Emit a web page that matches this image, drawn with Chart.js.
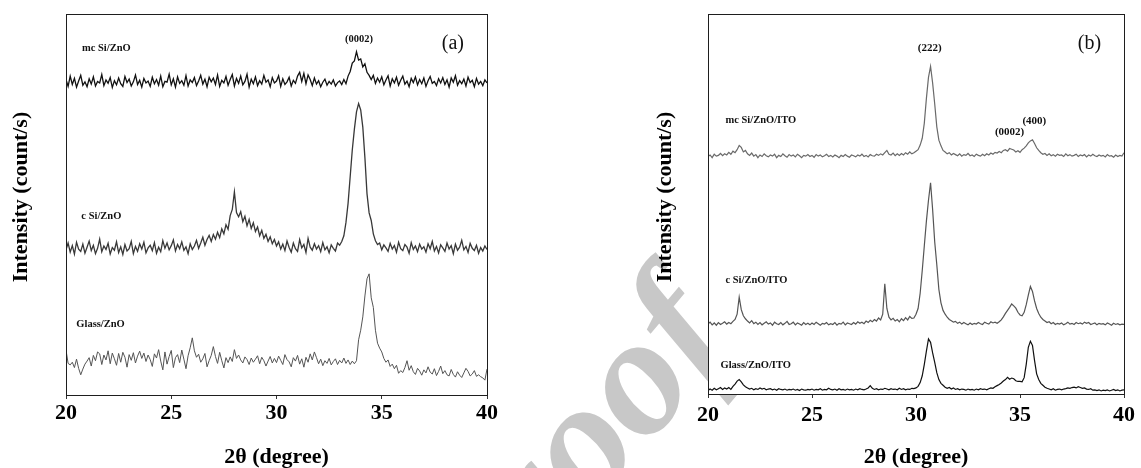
<!DOCTYPE html>
<html><head><meta charset="utf-8">
<script src="https://cdn.jsdelivr.net/npm/chart.js@4.4.1/dist/chart.umd.min.js"></script>
<style>
html,body{margin:0;padding:0;background:#fff;width:1141px;height:468px;overflow:hidden;}
#wm{position:absolute;left:0;top:0;z-index:0}
#ca{position:absolute;left:0;top:0;z-index:1}
#cb{position:absolute;left:640px;top:0;z-index:1}
</style></head><body>
<canvas id="wm" width="1141" height="468"></canvas>
<canvas id="ca" width="570" height="468"></canvas>
<canvas id="cb" width="501" height="468"></canvas>
<script>
// ---- sampling grid (2θ, degrees) ----
const THETA_START = 20, THETA_STEP = 0.1;
const xTicks = [20, 25, 30, 35, 40];

// ---- panel (a): intensities (arb. units) ----
const aMcSiZnO = [
1.5,-0.3,2.4,0.2,1.8,-0.5,1.1,2.6,0.0,0.9,
-0.4,1.7,0.3,2.2,-0.2,1.0,0.6,2.8,-0.1,1.4,
0.5,2.0,-0.6,1.2,0.1,1.9,0.4,-0.3,2.3,0.7,
1.6,-0.2,0.9,2.7,0.2,1.3,-0.5,1.8,0.6,1.1,
-0.3,2.1,0.4,1.5,0.0,2.4,-0.4,1.0,0.8,2.9,
0.1,1.7,-0.5,2.2,0.5,1.2,0.0,2.5,-0.2,1.4,
0.7,2.0,-0.1,1.1,2.6,0.3,1.6,-0.4,2.1,0.9,
1.9,0.2,2.7,-0.3,1.3,0.6,2.3,0.0,1.5,2.8,
-0.2,1.8,0.5,2.4,0.1,1.0,2.9,-0.5,1.6,0.4,
2.2,-0.1,1.2,0.3,2.6,0.8,1.4,-0.4,2.0,0.6,
1.1,2.5,-0.3,1.7,0.2,0.9,2.1,-0.2,1.3,0.5,
2.4,3.4,1.0,3.1,0.4,2.7,1.5,-0.1,1.9,0.3,
1.2,-0.4,0.8,1.6,0.0,1.0,0.3,1.4,-0.2,0.7,
1.1,0.2,1.5,0.4,2.4,3.6,5.8,6.4,8.8,6.6,
6.9,4.8,5.6,3.4,2.6,1.5,2.6,0.5,1.9,0.8,
2.2,0.1,1.4,2.5,-0.2,1.7,0.6,2.1,0.0,1.3,
2.4,0.3,1.1,-0.4,1.8,0.7,2.2,0.1,1.5,0.4,
1.9,-0.3,1.2,2.3,0.5,1.0,-0.1,1.7,0.6,2.0,
0.2,1.4,-0.5,1.9,0.8,2.5,0.0,1.2,0.4,1.6,
-0.2,2.1,0.7,1.3,-0.4,1.8,0.3,1.0,-0.1,1.4,
0.6];
const aCSiZnO = [
0.8,2.6,0.2,1.9,-0.3,2.8,1.0,0.4,2.3,-0.1,
1.5,3.1,0.6,2.0,-0.2,1.2,3.6,0.3,1.8,0.9,
2.5,-0.3,1.4,0.7,2.9,0.1,1.6,-0.4,2.2,0.5,
1.1,3.0,-0.2,1.7,0.4,2.4,1.0,2.8,0.0,1.3,
2.0,0.6,2.7,-0.1,1.5,0.3,3.2,1.2,2.6,0.8,
1.9,3.4,0.5,2.2,1.1,2.9,0.7,1.6,-0.2,2.4,
0.9,1.8,3.3,1.2,2.6,4.1,2.0,3.5,4.6,3.0,
4.8,3.6,5.4,4.0,6.3,5.0,7.4,6.2,9.8,11.4,
16.0,10.6,9.5,10.8,8.2,9.6,7.1,8.8,6.4,7.9,
5.6,6.8,4.5,5.9,3.8,4.9,3.0,4.2,2.4,3.5,
1.8,2.9,1.0,2.3,0.6,3.1,1.4,0.2,2.6,1.1,
0.4,3.5,1.3,2.2,0.1,3.8,1.5,0.7,2.4,1.0,
1.9,0.3,2.7,0.8,1.6,0.0,2.1,1.2,0.5,2.6,
2.0,3.0,4.5,8.0,13.0,20.0,27.0,32.5,37.0,39.2,
37.5,33.0,25.0,15.5,10.5,8.5,5.0,3.2,2.2,2.6,
0.8,2.1,1.3,0.4,2.5,1.0,1.9,0.2,2.8,1.1,
0.6,2.2,1.5,-0.1,2.7,0.9,1.8,0.3,2.3,1.0,
1.6,0.2,2.4,1.1,3.0,0.5,1.7,0.0,2.1,1.3,
0.4,2.6,1.0,1.9,-0.2,2.3,0.7,1.5,3.3,0.8,
1.7,0.1,2.5,1.2,0.6,2.0,-0.1,1.4,0.5,1.8,
0.9];
const aGlassZnO = [
11.8,8.3,7.9,8.6,7.2,9.4,7.0,5.3,6.8,8.1,
8.9,9.8,7.6,10.4,9.0,11.3,10.8,8.0,10.5,9.2,
11.6,8.2,11.0,9.5,7.8,10.9,8.6,11.2,9.9,7.3,
10.6,9.1,11.1,8.4,10.2,11.5,9.6,11.0,8.8,10.5,
9.3,7.5,10.8,9.7,11.9,8.9,6.6,11.3,8.1,10.1,
11.7,7.2,9.8,10.6,8.5,11.8,9.4,6.9,10.3,12.4,
15.0,11.6,9.9,10.7,8.6,9.5,10.9,7.4,9.0,10.4,
12.7,10.1,8.3,11.2,9.0,7.1,9.8,8.5,10.0,8.8,
11.9,9.6,10.5,9.2,8.4,10.0,9.3,8.0,9.7,8.6,
9.4,10.3,8.2,9.9,9.0,7.6,8.9,10.1,8.4,9.6,
8.5,10.2,9.1,8.0,10.6,9.3,8.7,7.4,9.8,8.9,
10.4,8.1,9.5,7.3,9.9,8.6,10.8,9.2,11.3,9.8,
8.2,9.4,7.7,9.0,8.3,9.6,7.9,8.8,9.5,8.0,
9.1,8.4,9.7,8.3,9.2,8.0,8.9,8.2,9.0,14.5,
17.0,20.5,26.0,30.5,31.8,25.5,23.0,17.0,13.6,12.3,
11.3,9.6,8.6,9.2,7.5,8.1,6.9,7.8,5.7,6.4,
5.9,7.2,9.0,6.5,7.7,6.1,5.4,7.0,6.3,5.2,
6.6,5.8,7.4,6.0,5.5,6.9,5.1,6.2,7.6,5.6,
6.4,5.3,5.0,6.7,5.4,4.7,6.1,5.2,4.6,5.8,
7.0,6.2,5.0,5.5,6.4,4.9,5.3,4.8,4.5,3.9,
6.8];
const aOffsets = [81.3, 37.3, 0];   // mc Si, c Si, Glass (vertical stacking)

// ---- panel (b) ----
const bMcSiZnOITO = [
0.2,0.6,-0.1,0.8,0.3,0.5,1.0,0.4,0.9,0.6,
1.3,0.8,1.6,1.2,2.0,3.1,2.6,1.4,1.8,0.9,
0.5,1.1,0.3,0.7,-0.1,0.6,0.2,0.9,0.4,0.1,
0.6,0.3,0.8,-0.1,0.5,0.2,0.9,0.4,0.0,0.7,
0.3,0.6,0.1,0.8,0.4,-0.1,0.5,0.3,0.7,0.2,
0.5,0.0,0.7,0.3,0.6,0.1,0.4,0.8,0.2,0.5,
0.1,0.6,0.3,-0.1,0.5,0.2,0.7,0.3,0.0,0.6,
0.4,0.1,0.6,0.3,0.8,0.2,0.5,0.1,0.7,0.4,
0.3,0.8,0.5,0.9,0.6,1.2,1.8,0.8,0.6,1.1,
0.4,0.9,0.5,1.0,0.6,1.2,0.8,1.4,0.9,1.2,
1.6,2.0,3.2,5.0,9.0,15.5,21.0,23.9,19.5,14.0,
8.0,4.5,3.0,1.8,1.4,0.9,1.2,0.6,1.0,0.7,
0.4,0.9,0.3,0.7,0.5,1.0,0.4,0.6,0.2,0.8,
0.5,0.3,0.8,0.4,0.9,0.6,1.1,0.8,1.3,1.1,
1.5,1.2,1.8,2.0,1.6,2.3,2.1,1.9,1.4,1.7,
1.3,2.0,2.4,3.0,3.8,4.3,4.6,3.6,2.5,1.8,
1.2,0.8,1.0,0.5,0.9,0.4,0.7,0.3,0.8,0.5,
0.6,0.2,0.9,0.4,0.7,0.3,0.5,0.8,0.2,0.6,
0.4,0.7,0.1,0.6,0.3,0.8,0.4,0.2,0.6,0.3,
0.5,0.1,0.7,0.3,0.4,0.0,0.6,0.2,0.5,0.3,
1.2];
const bCSiZnOITO = [
0.4,0.9,0.2,0.7,0.1,0.8,0.3,0.6,1.0,0.4,
0.8,0.5,1.1,1.6,3.0,7.5,4.2,2.6,1.8,1.2,
0.7,1.3,0.5,0.9,0.3,0.8,0.2,0.6,1.0,0.4,
0.7,0.1,0.9,0.5,0.3,0.8,0.2,0.6,1.1,0.3,
0.5,0.9,0.2,0.7,0.4,0.1,0.8,0.3,0.6,0.2,
0.7,0.3,0.9,0.5,0.1,0.6,0.4,0.8,0.2,0.5,
0.3,0.8,0.1,0.6,0.4,0.9,0.2,0.7,0.5,0.3,
0.8,0.4,1.0,0.6,0.9,0.5,1.2,0.8,1.4,1.0,
1.6,1.2,2.0,1.5,3.0,11.0,4.5,2.2,1.5,1.9,
1.2,1.6,1.0,1.8,1.3,2.1,1.5,2.4,1.9,2.0,
3.0,4.5,8.5,14.5,21.0,27.5,33.0,37.6,30.5,22.0,
16.0,9.5,6.0,4.0,3.0,2.2,1.6,1.3,0.9,1.1,
0.6,0.9,0.4,0.8,0.5,0.2,0.7,0.3,0.6,0.4,
0.8,0.5,0.3,0.9,0.6,0.4,1.0,0.7,0.9,0.6,
1.0,1.5,2.3,3.2,4.0,4.8,5.7,5.2,4.6,3.5,
2.8,2.6,3.5,5.5,8.0,10.3,9.0,6.5,4.5,3.2,
2.2,1.6,1.2,0.8,1.0,0.5,0.8,0.3,0.6,0.4,
0.7,0.2,0.5,0.9,0.4,0.6,0.3,0.8,0.5,0.7,
0.4,0.9,0.6,0.8,0.3,0.5,0.7,0.2,0.6,0.4,
0.5,0.2,0.7,0.4,0.1,0.6,0.3,0.5,0.2,0.4,
0.3];
const bGlassZnOITO = [
0.1,0.5,0.2,0.7,0.3,0.6,0.9,0.4,0.8,0.5,
0.9,0.4,1.2,1.8,2.6,3.0,2.4,1.6,1.1,0.8,
0.5,0.7,0.3,0.6,0.4,0.8,0.5,0.7,0.3,0.5,
0.6,0.3,0.5,0.2,0.6,0.4,0.3,0.5,0.2,0.4,
0.3,0.5,0.2,0.4,0.1,0.5,0.3,0.2,0.4,0.3,
0.5,0.2,0.4,0.3,0.6,0.2,0.4,0.3,0.7,0.4,
0.3,0.5,0.2,0.6,0.3,0.4,0.2,0.5,0.3,0.4,
0.2,0.5,0.3,0.6,0.4,0.3,0.5,0.8,1.4,0.7,
0.4,0.6,0.3,0.5,0.4,0.7,0.5,0.3,0.6,0.4,
0.5,0.3,0.7,0.4,0.6,0.3,0.5,0.4,0.7,0.6,
0.8,1.2,2.2,4.0,7.0,10.5,13.7,12.8,10.0,7.5,
4.8,3.0,2.0,1.5,1.0,0.7,0.9,0.5,0.8,0.4,
0.6,0.3,0.5,0.4,0.2,0.5,0.3,0.4,0.2,0.5,
0.3,0.6,0.4,0.5,0.3,0.6,0.8,0.7,1.1,1.4,
1.7,2.1,2.6,3.0,3.6,3.1,3.4,3.2,2.7,2.5,
2.5,2.4,3.5,7.0,11.5,13.1,12.0,8.0,4.5,3.0,
2.0,1.5,1.0,0.7,0.5,0.3,0.6,0.2,0.4,0.5,
0.3,0.5,0.6,0.8,0.7,0.9,1.0,0.8,1.1,0.9,
0.7,0.8,0.5,0.4,0.6,0.2,0.3,0.1,0.3,0.0,
0.2,0.1,0.3,0.0,0.2,0.4,0.1,0.3,0.0,0.2,
0.3];
const bOffsets = [62.3, 18.0, 0.8];  // mc Si, c Si, Glass

const aLabels = ['mc Si/ZnO', 'c Si/ZnO', 'Glass/ZnO'];
const bLabels = ['mc Si/ZnO/ITO', 'c Si/ZnO/ITO', 'Glass/ZnO/ITO'];
const xTitle = '2θ (degree)';
const yTitle = 'Intensity (count/s)';

// text annotations, placed in data coordinates (2θ, stacked intensity)
const aNotes = [
  {text:'mc Si/ZnO', x:20.76, y:91.1, align:'left', font:'bold 10.5px "Liberation Serif"'},
  {text:'c Si/ZnO', x:20.73, y:47.0, align:'left', font:'bold 10.5px "Liberation Serif"'},
  {text:'Glass/ZnO', x:20.49, y:18.6, align:'left', font:'bold 10.5px "Liberation Serif"'},
  {text:'(0002)', x:33.92, y:93.4, align:'center', font:'bold 10.5px "Liberation Serif"'},
  {text:'(a)', x:38.38, y:92.1, align:'center', font:'20px "Liberation Serif"'}
];
const bNotes = [
  {text:'mc Si/ZnO/ITO', x:20.84, y:71.9, align:'left', font:'bold 10.5px "Liberation Serif"'},
  {text:'c Si/ZnO/ITO', x:20.84, y:29.9, align:'left', font:'bold 10.5px "Liberation Serif"'},
  {text:'Glass/ZnO/ITO', x:20.6, y:7.5, align:'left', font:'bold 10.5px "Liberation Serif"'},
  {text:'(222)', x:30.66, y:91.0, align:'center', font:'bold 11px "Liberation Serif"'},
  {text:'(0002)', x:34.5, y:68.9, align:'center', font:'bold 11px "Liberation Serif"'},
  {text:'(400)', x:35.69, y:71.7, align:'center', font:'bold 11px "Liberation Serif"'},
  {text:'(b)', x:38.34, y:92.3, align:'center', font:'20px "Liberation Serif"'}
];

const SERIF = '"Liberation Serif", "Times New Roman", serif';

function toPoints(values, offset){
  return values.map((v, i) => ({x: THETA_START + i * THETA_STEP, y: v + offset}));
}

function panelPlugin(notes, yTitlePos){
  return {
    id: 'panel',
    beforeDraw(chart){
      const {ctx, chartArea:a} = chart;
      ctx.save(); ctx.fillStyle = '#fff';
      ctx.fillRect(a.left, a.top, a.right - a.left, a.bottom - a.top);
      ctx.restore();
    },
    afterDraw(chart){
      const {ctx, chartArea:a, scales} = chart;
      ctx.save();
      ctx.strokeStyle = '#1e1e1e'; ctx.lineWidth = 1;
      const l = Math.round(a.left) + 0.5, t = Math.round(a.top) + 0.5;
      const r = Math.round(a.right) + 0.5, b = Math.round(a.bottom) + 0.5;
      ctx.strokeRect(l, t, r - l, b - t);
      ctx.fillStyle = '#111'; ctx.textBaseline = 'middle';
      notes.forEach(n => {
        ctx.font = n.font; ctx.textAlign = n.align;
        ctx.fillText(n.text, scales.x.getPixelForValue(n.x), scales.y.getPixelForValue(n.y));
      });
      // y-axis title
      ctx.fillStyle = '#000';
      ctx.font = 'bold 22px ' + SERIF; ctx.textAlign = 'center';
      ctx.translate(yTitlePos[0], yTitlePos[1]); ctx.rotate(-Math.PI / 2);
      ctx.fillText(yTitle, 0, 0);
      ctx.restore();
    }
  };
}

function makeChart(id, labels, series, offsets, colors, widths, notes, geom){
  new Chart(document.getElementById(id), {
    type: 'line',
    data: {
      datasets: series.map((s, k) => ({
        label: labels[k], data: toPoints(s, offsets[k]),
        borderColor: colors[k], borderWidth: widths[k],
        pointRadius: 0, tension: 0, fill: false
      }))
    },
    options: {
      responsive: false, animation: false, devicePixelRatio: 1,
      layout: {padding: {top: 14, right: geom.padRight, left: 0, bottom: 0}},
      plugins: {legend: {display: false}, tooltip: {enabled: false}},
      scales: {
        x: {
          type: 'linear', min: 20, max: 40,
          afterFit(s){ s.height = geom.xHeight; },
          afterBuildTicks(s){ s.ticks = xTicks.map(v => ({value: v})); },
          ticks: {color: '#000', padding: geom.tickPad, maxRotation: 0, autoSkip: false,
                  font: {family: SERIF, size: 22, weight: 'bold', lineHeight: 1.0}},
          grid: {display: true, drawOnChartArea: false, drawTicks: true, tickLength: 4, color: '#333'},
          border: {display: false},
          title: {display: true, text: xTitle, color: '#000', padding: {top: 0, bottom: 0},
                  font: {family: SERIF, size: 22, weight: 'bold', lineHeight: 1.0}}
        },
        y: {
          min: 0, max: 100,
          afterFit(s){ s.width = geom.yWidth; },
          ticks: {display: false}, grid: {display: false}, border: {display: false},
          title: {display: false}
        }
      }
    },
    plugins: [panelPlugin(notes, geom.yTitlePos)]
  });
}

// watermark behind the figure
(function(){
  const c = document.getElementById('wm'), ctx = c.getContext('2d');
  ctx.save();
  ctx.fillStyle = '#c8c8c8';
  ctx.font = 'italic bold 170px "Liberation Serif"';
  ctx.textAlign = 'right'; ctx.textBaseline = 'alphabetic';
  ctx.translate(737, 339); ctx.rotate(-50 * Math.PI / 180);
  ctx.fillText('Journal Pre-proof', 0, 0);
  ctx.restore();
})();

makeChart('ca', aLabels, [aMcSiZnO, aCSiZnO, aGlassZnO], aOffsets,
  ['#111111', '#383838', '#555555'], [1.3, 1.3, 1.0], aNotes,
  {padRight: 83, xHeight: 73, yWidth: 66, tickPad: 3, yTitlePos: [21, 197]});
makeChart('cb', bLabels, [bMcSiZnOITO, bCSiZnOITO, bGlassZnOITO], bOffsets,
  ['#6a6a6a', '#555555', '#111111'], [1.2, 1.2, 1.2], bNotes,
  {padRight: 11, xHeight: 74, yWidth: 68, tickPad: 6, yTitlePos: [25, 197]});
</script>
</body></html>
